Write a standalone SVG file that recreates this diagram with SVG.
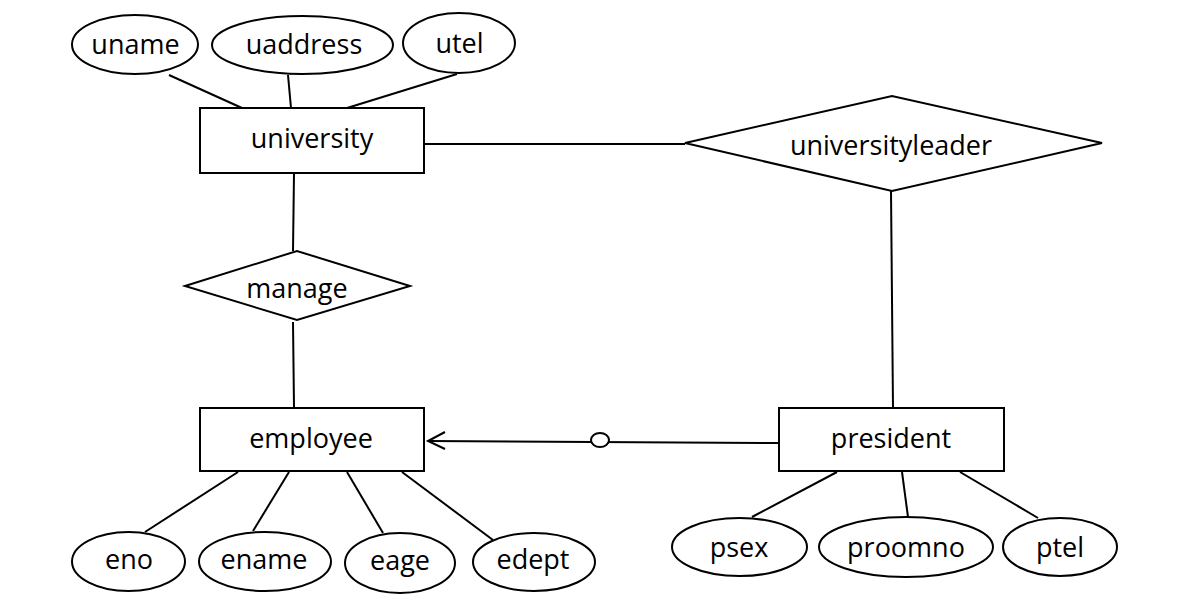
<svg xmlns="http://www.w3.org/2000/svg" width="1177" height="601" viewBox="0 0 1177 601">
<style>
.shape{fill:#fff;stroke:#000;stroke-width:2}
.conn line,.conn path{stroke:#000;stroke-width:2;fill:none}
text{font-family:"Open Sans","Noto Sans","DejaVu Sans",sans-serif;font-size:27px;fill:#000;text-anchor:middle}
</style>
<rect width="1177" height="601" fill="#fff"/>
<g class="conn">
<line x1="169" y1="75" x2="242" y2="108"/>
<line x1="288" y1="75" x2="291" y2="108"/>
<line x1="457" y1="74" x2="347" y2="108"/>
<line x1="424" y1="144" x2="685" y2="144"/>
<line x1="891" y1="191" x2="893" y2="408"/>
<line x1="294" y1="173" x2="293" y2="251"/>
<line x1="293" y1="322" x2="294" y2="408"/>
<line x1="238" y1="472" x2="145" y2="532"/>
<line x1="289" y1="472" x2="253" y2="531"/>
<line x1="347" y1="472" x2="383" y2="533"/>
<line x1="402" y1="472" x2="493" y2="540"/>
<line x1="837" y1="472" x2="752" y2="517"/>
<line x1="902" y1="472" x2="908" y2="517"/>
<line x1="960" y1="472" x2="1038" y2="518"/>
<line x1="428" y1="441" x2="779" y2="443"/>
<path d="M445 432 L428 441 L445 449"/>
<ellipse cx="600" cy="440" rx="9" ry="7" fill="#fff" stroke="#000" stroke-width="2"/>
</g>
<g id="university"><rect class="shape" x="200" y="108" width="224" height="65"/><text x="312" y="148">university</text></g>
<g id="uname"><ellipse class="shape" cx="135" cy="44.5" rx="63" ry="29.5"/><text x="135.5" y="54">uname</text></g>
<g id="uaddress"><ellipse class="shape" cx="302.5" cy="45" rx="90.5" ry="29"/><text x="304" y="54">uaddress</text></g>
<g id="utel"><ellipse class="shape" cx="459" cy="43" rx="56" ry="30"/><text x="459.5" y="53">utel</text></g>
<g id="universityleader"><polygon class="shape" points="685,143 892,96 1102,143 892,191"/><text x="891" y="155">universityleader</text></g>
<g id="manage"><polygon class="shape" points="185,286 297,251 410,286 297,320"/><text x="297" y="298">manage</text></g>
<g id="employee"><rect class="shape" x="200" y="408" width="224" height="63"/><text x="311" y="448">employee</text></g>
<g id="president"><rect class="shape" x="779" y="408" width="225" height="63"/><text x="891" y="448">president</text></g>
<g id="eno"><ellipse class="shape" cx="128.5" cy="561.5" rx="56.5" ry="29.5"/><text x="129" y="569">eno</text></g>
<g id="ename"><ellipse class="shape" cx="265" cy="561.5" rx="66" ry="29.5"/><text x="264" y="569">ename</text></g>
<g id="eage"><ellipse class="shape" cx="400" cy="563" rx="55" ry="30"/><text x="400" y="570">eage</text></g>
<g id="edept"><ellipse class="shape" cx="534" cy="562" rx="61" ry="29"/><text x="533" y="569">edept</text></g>
<g id="psex"><ellipse class="shape" cx="739.5" cy="547" rx="67.5" ry="29"/><text x="739" y="557">psex</text></g>
<g id="proomno"><ellipse class="shape" cx="906" cy="547" rx="87" ry="30"/><text x="906" y="557">proomno</text></g>
<g id="ptel"><ellipse class="shape" cx="1060" cy="547" rx="57" ry="29"/><text x="1060" y="557">ptel</text></g>
</svg>
